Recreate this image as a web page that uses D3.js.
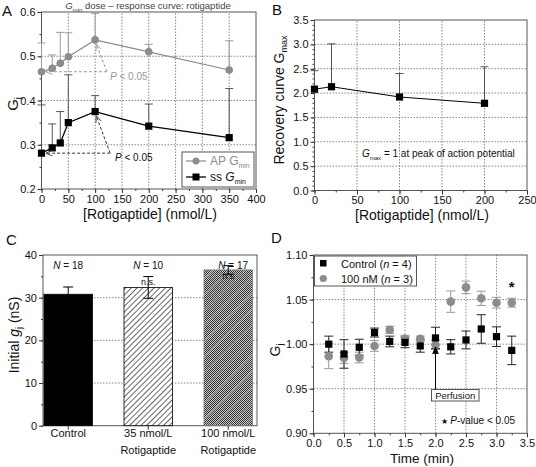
<!DOCTYPE html>
<html><head><meta charset="utf-8">
<script src="https://cdn.jsdelivr.net/npm/d3@7"></script>
<style>body{margin:0;background:#fff}svg{display:block;font-family:"Liberation Sans",Arial,sans-serif}</style>
</head><body>
<svg id="c" width="536" height="467"></svg>
<script>
// ---------- DATA ----------
const aDose = [0, 20, 35, 50, 100, 200, 350];
const apGmin = [0.465, 0.473, 0.484, 0.499, 0.537, 0.510, 0.469];
const apGminErr = [0.065, 0.030, 0.070, 0.054, 0.060, 0.017, 0.066];
const ssGmin = [0.281, 0.293, 0.304, 0.350, 0.375, 0.342, 0.316];
const ssGminErr = [0.109, 0.054, 0.071, 0.108, 0.036, 0.050, 0.111];
const aXTicks = [0, 50, 100, 150, 200, 250, 300, 350, 400];
const aYTicks = [0.2, 0.3, 0.4, 0.5, 0.6];

const bDose = [0, 20, 100, 200];
const bGmax = [2.08, 2.13, 1.92, 1.79];
const bGmaxErr = [0.38, 0.88, 0.48, 0.75];
const bXTicks = [0, 50, 100, 150, 200, 250];
const bYTicks = [0, 0.5, 1.0, 1.5, 2.0, 2.5, 3.0, 3.5];

const cCats = ["Control", "35 nmol/L", "100 nmol/L"];
const cCats2 = ["", "Rotigaptide", "Rotigaptide"];
const cVals = [30.8, 32.4, 36.5];
const cErr = [1.7, 2.55, 1.0];
const cN = ["18", "10", "17"];
const cYTicks = [0, 10, 20, 30, 40];

const dTime = [0.25, 0.5, 0.75, 1.0, 1.25, 1.5, 1.75, 2.0, 2.25, 2.5, 2.75, 3.0, 3.25];
const dCtrl = [1.000, 0.989, 0.9965, 1.013, 1.003, 1.002, 0.998, 1.007, 0.997, 1.0047, 1.017, 1.0084, 0.993];
const dCtrlErr = [0.009, 0.016, 0.009, 0.005, 0.006, 0.006, 0.007, 0.012, 0.008, 0.010, 0.016, 0.011, 0.016];
const dNM = [0.9865, 0.9845, 0.985, 0.998, 1.016, 1.006, 1.006, 0.999, 1.0477, 1.0637, 1.0514, 1.0465, 1.0465];
const dNMErr = [0.014, 0.006, 0.006, 0.006, 0.004, 0.004, 0.003, 0.005, 0.012, 0.007, 0.008, 0.006, 0.005];
const dXTicks = [0, 0.5, 1.0, 1.5, 2.0, 2.5, 3.0, 3.5];
const dYTicks = [0.90, 0.95, 1.00, 1.05, 1.10];

// ---------- HELPERS ----------
const svg = d3.select("#c");
const GRAY = "#8c8c8c";
const defs = svg.append("defs");
function marker(id, color, filled) {
  defs.append("marker").attr("id", id).attr("viewBox", "0 0 10 10").attr("refX", 10).attr("refY", 5)
    .attr("markerWidth", 7).attr("markerHeight", 7).attr("orient", "auto-start-reverse")
    .attr("markerUnits", "userSpaceOnUse")
    .append("path").attr("d", filled ? "M0,1L10,5L0,9Z" : "M0,1L10,5L0,9")
    .attr("fill", filled ? color : "none").attr("stroke", color).attr("stroke-width", 1.2);
}
marker("arG", "#999", false);
marker("arK", "#333", false);
marker("arF", "#000", true);

function frame(g, x, y, xt, yt, xMinor, yMinor, xFmt, yFmt, grid) {
  const [x0, x1] = x.range(), [y0, y1] = y.range();
  if (grid !== false) {
    g.append("g").selectAll("line").data(yt.slice(1, -1)).join("line")
      .attr("x1", x0).attr("x2", x1).attr("y1", d => y(d)).attr("y2", d => y(d))
      .attr("stroke", "#555").attr("stroke-width", 0.7).attr("stroke-dasharray", "1.5,1.5");
    if (grid !== "y") g.append("g").selectAll("line").data(xt.slice(1, -1)).join("line")
      .attr("y1", y0).attr("y2", y1).attr("x1", d => x(d)).attr("x2", d => x(d))
      .attr("stroke", "#555").attr("stroke-width", 0.7).attr("stroke-dasharray", "1.5,1.5");
  }
  g.append("g").attr("transform", `translate(0,${y0})`)
    .call(d3.axisBottom(x).tickValues(xt).tickSize(4).tickSizeOuter(0).tickPadding(2).tickFormat(xFmt));
  if (xMinor) g.append("g").attr("transform", `translate(0,${y0})`)
    .call(d3.axisBottom(x).tickValues(xMinor).tickSize(2).tickSizeOuter(0).tickFormat(""));
  g.append("g").attr("transform", `translate(${x0},0)`)
    .call(d3.axisLeft(y).tickValues(yt).tickSize(4).tickSizeOuter(0).tickPadding(2).tickFormat(yFmt));
  if (yMinor) g.append("g").attr("transform", `translate(${x0},0)`)
    .call(d3.axisLeft(y).tickValues(yMinor).tickSize(2).tickSizeOuter(0).tickFormat(""));
  g.selectAll(".domain").remove();
  g.selectAll(".tick text").attr("font-size", 11).attr("fill", "#111").attr("font-family", "Liberation Sans, Arial, sans-serif");
  g.selectAll(".tick line").attr("stroke", "#333");
  g.append("rect").attr("x", x0).attr("y", y1).attr("width", x1 - x0).attr("height", y0 - y1)
    .attr("fill", "none").attr("stroke", "#555").attr("stroke-width", 1);
}
function minors(a, b, s) { const r = []; for (let v = a; v <= b + 1e-9; v += s) r.push(+v.toFixed(4)); return r; }
function errBars(g, xs, ys, es, x, y, color, cap, upperOnly) {
  const gg = g.append("g").attr("stroke", color).attr("stroke-width", 1);
  xs.forEach((xv, i) => {
    const top = Math.max(y(ys[i] + es[i]), y.range()[1]);
    const bot = upperOnly ? y(ys[i]) : y(ys[i] - es[i]);
    gg.append("line").attr("x1", x(xv)).attr("x2", x(xv)).attr("y1", top).attr("y2", bot);
    if (y(ys[i] + es[i]) >= y.range()[1])
      gg.append("line").attr("x1", x(xv) - cap).attr("x2", x(xv) + cap).attr("y1", top).attr("y2", top);
    if (!upperOnly)
      gg.append("line").attr("x1", x(xv) - cap).attr("x2", x(xv) + cap).attr("y1", bot).attr("y2", bot);
  });
}
function txt(g, x, y, s, o) {
  const t = g.append("text").attr("x", x).attr("y", y).attr("font-size", (o && o.size) || 11)
    .attr("fill", (o && o.fill) || "#111").attr("text-anchor", (o && o.anchor) || "start");
  if (s) t.text(s);
  if (o && o.rotate) t.attr("transform", `rotate(-90,${x},${y})`);
  return t;
}
function sub(t, main, subs, after, mainItalic, size) {
  t.append("tspan").text(main).attr("font-style", mainItalic ? "italic" : null);
  t.append("tspan").text(subs).attr("font-size", size).attr("dy", 3);
  if (after) t.append("tspan").text(after).attr("dy", -3);
}

// ---------- PANEL A ----------
{
  const g = svg.append("g");
  const x = d3.scaleLinear().domain([0, 400]).range([41.5, 256]);
  const y = d3.scaleLinear().domain([0.2, 0.6]).range([189, 12]);
  frame(g, x, y, aXTicks, aYTicks, minors(0, 400, 25), minors(0.2, 0.6, 0.05), d3.format("d"), d3.format(".1f"));
  errBars(g, aDose, apGmin, apGminErr, x, y, "#999", 4, true);
  errBars(g, aDose, ssGmin, ssGminErr, x, y, "#555", 4, true);
  const line = d3.line().x(d => x(d[0])).y(d => y(d[1]));
  g.append("path").datum(aDose.map((d, i) => [d, apGmin[i]])).attr("d", line).attr("fill", "none").attr("stroke", GRAY).attr("stroke-width", 1.2);
  g.append("path").datum(aDose.map((d, i) => [d, ssGmin[i]])).attr("d", line).attr("fill", "none").attr("stroke", "#000").attr("stroke-width", 1.3);
  g.selectAll(".cir").data(aDose).join("circle").attr("cx", d => x(d)).attr("cy", (d, i) => y(apGmin[i])).attr("r", 3.8).attr("fill", GRAY);
  g.selectAll(".sq").data(aDose).join("rect").attr("x", d => x(d) - 3.6).attr("y", (d, i) => y(ssGmin[i]) - 3.6).attr("width", 7.2).attr("height", 7.2).attr("fill", "#000");
  const cornerG = [122, apGmin[0]], cornerK = [128, ssGmin[0]];
  g.append("line").attr("x1", x(cornerG[0])).attr("y1", y(cornerG[1])).attr("x2", x(0) + 4).attr("y2", y(cornerG[1]))
    .attr("stroke", "#999").attr("stroke-dasharray", "3,2").attr("marker-end", "url(#arG)");
  g.append("line").attr("x1", x(cornerG[0])).attr("y1", y(cornerG[1])).attr("x2", x(100) + 1).attr("y2", y(apGmin[4]) + 4)
    .attr("stroke", "#999").attr("stroke-dasharray", "3,2").attr("marker-end", "url(#arG)");
  g.append("line").attr("x1", x(cornerK[0])).attr("y1", y(cornerK[1])).attr("x2", x(0) + 4).attr("y2", y(cornerK[1]))
    .attr("stroke", "#333").attr("stroke-dasharray", "3,2").attr("marker-end", "url(#arK)");
  g.append("line").attr("x1", x(cornerK[0])).attr("y1", y(cornerK[1])).attr("x2", x(100) + 1).attr("y2", y(ssGmin[4]) + 4)
    .attr("stroke", "#333").attr("stroke-dasharray", "3,2").attr("marker-end", "url(#arK)");
  let t = txt(g, 110, 80, "", { size: 10, fill: "#999" });
  t.append("tspan").text("P").attr("font-style", "italic"); t.append("tspan").text(" < 0.05");
  t = txt(g, 115, 161, "", { size: 10, fill: "#111" });
  t.append("tspan").text("P").attr("font-style", "italic"); t.append("tspan").text(" < 0.05");
  g.append("rect").attr("x", 182).attr("y", 152).attr("width", 72).attr("height", 35).attr("fill", "#fff").attr("stroke", "#555");
  g.append("line").attr("x1", 186).attr("x2", 206).attr("y1", 161).attr("y2", 161).attr("stroke", GRAY).attr("stroke-width", 1.2);
  g.append("circle").attr("cx", 196).attr("cy", 161).attr("r", 3.5).attr("fill", GRAY);
  g.append("line").attr("x1", 186).attr("x2", 206).attr("y1", 177).attr("y2", 177).attr("stroke", "#000").attr("stroke-width", 1.3);
  g.append("rect").attr("x", 192.5).attr("y", 173.5).attr("width", 7).attr("height", 7).attr("fill", "#000");
  t = txt(g, 210, 165, "", { size: 12, fill: GRAY }); sub(t, "AP G", "min", "", false, 7);
  t = txt(g, 210, 181, "", { size: 12 }); t.append("tspan").text("ss "); sub(t, "G", "min", "", true, 7);
  t = txt(g, 148, 9, "", { size: 9.5, fill: "#444", anchor: "middle" }); sub(t, "G", "min", " dose – response curve: rotigaptide", true, 6);
  txt(g, 2, 16, "A", { size: 15 });
  t = txt(g, 18, 104, "", { size: 15, rotate: true, anchor: "middle" }); sub(t, "G", "j", "", false, 9);
  txt(g, 150, 218.5, "[Rotigaptide] (nmol/L)", { size: 14, anchor: "middle" });
}

// ---------- PANEL B ----------
{
  const g = svg.append("g");
  const x = d3.scaleLinear().domain([0, 250]).range([314.5, 527]);
  const y = d3.scaleLinear().domain([0, 3.5]).range([190.5, 20]);
  frame(g, x, y, bXTicks, bYTicks, minors(0, 250, 25), minors(0, 3.5, 0.1), d3.format("d"), d3.format(".1f"));
  errBars(g, bDose, bGmax, bGmaxErr, x, y, "#555", 4, true);
  g.append("path").datum(bDose.map((d, i) => [d, bGmax[i]])).attr("d", d3.line().x(d => x(d[0])).y(d => y(d[1])))
    .attr("fill", "none").attr("stroke", "#000").attr("stroke-width", 1);
  g.selectAll(".sq").data(bDose).join("rect").attr("x", d => x(d) - 3.6).attr("y", (d, i) => y(bGmax[i]) - 3.6).attr("width", 7.2).attr("height", 7.2).attr("fill", "#000");
  let t = txt(g, 362, 157, "", { size: 10 }); sub(t, "G", "max", " = 1 at peak of action potential", true, 6);
  txt(g, 272, 15, "B", { size: 15 });
  t = txt(g, 284, 100, "", { size: 14, rotate: true, anchor: "middle" }); sub(t, "Recovery curve G", "max", "", false, 9);
  txt(g, 422, 219.5, "[Rotigaptide] (nmol/L)", { size: 14, anchor: "middle" });
}

// ---------- PANEL C ----------
{
  const g = svg.append("g");
  const p1 = defs.append("pattern").attr("id", "hatch").attr("patternUnits", "userSpaceOnUse").attr("width", 4).attr("height", 4)
    .attr("patternTransform", "rotate(45)");
  p1.append("rect").attr("width", 4).attr("height", 4).attr("fill", "#fff");
  p1.append("line").attr("x1", 0).attr("y1", 0).attr("x2", 0).attr("y2", 4).attr("stroke", "#000").attr("stroke-width", 1.2);
  const p2 = defs.append("pattern").attr("id", "checker").attr("patternUnits", "userSpaceOnUse").attr("width", 2).attr("height", 2);
  p2.append("rect").attr("width", 2).attr("height", 2).attr("fill", "#c8c8c8");
  p2.append("rect").attr("width", 1).attr("height", 1).attr("fill", "#333");
  p2.append("rect").attr("x", 1).attr("y", 1).attr("width", 1).attr("height", 1).attr("fill", "#333");
  const p3 = defs.append("pattern").attr("id", "stripe").attr("patternUnits", "userSpaceOnUse").attr("width", 11).attr("height", 11)
    .attr("patternTransform", "rotate(45)");
  p3.append("line").attr("x1", 0).attr("y1", 0).attr("x2", 0).attr("y2", 11).attr("stroke", "#999").attr("stroke-width", 3).attr("stroke-opacity", 0.8);

  const x = d3.scaleBand().domain(cCats).range([43, 253.5]).paddingInner(0.394).paddingOuter(0.0125);
  const y = d3.scaleLinear().domain([0, 40]).range([425.7, 255]);
  const xl = d3.scaleLinear().domain([0, 1]).range([43, 257]);
  frame(g, xl, y, [], cYTicks, null, minors(0, 40, 5), "", d3.format("d"), "y");
  const fills = ["#000", "url(#hatch)", "url(#checker)"];
  g.selectAll(".bar").data(cCats).join("rect").attr("x", d => x(d)).attr("y", (d, i) => y(cVals[i]))
    .attr("width", x.bandwidth()).attr("height", (d, i) => y(0) - y(cVals[i]))
    .attr("fill", (d, i) => fills[i]).attr("stroke", (d, i) => i === 2 ? "#777" : "#000").attr("stroke-width", 0.8);
  g.append("rect").attr("x", x(cCats[2])).attr("y", y(cVals[2])).attr("width", x.bandwidth()).attr("height", y(0) - y(cVals[2]))
    .attr("fill", "url(#stripe)");
  const xc = d => x(d) + x.bandwidth() / 2;
  const eg = g.append("g").attr("stroke", "#000").attr("stroke-width", 1);
  cCats.forEach((c, i) => {
    const cx = xc(c), t = y(cVals[i] + cErr[i]), b = y(cVals[i] - cErr[i]);
    eg.append("line").attr("x1", cx).attr("x2", cx).attr("y1", t).attr("y2", i === 0 ? y(cVals[i]) : b);
    eg.append("line").attr("x1", cx - 5).attr("x2", cx + 5).attr("y1", t).attr("y2", t);
    if (i > 0) eg.append("line").attr("x1", cx - 5).attr("x2", cx + 5).attr("y1", b).attr("y2", b);
  });
  g.append("g").selectAll("line").data(cCats).join("line").attr("x1", xc).attr("x2", xc)
    .attr("y1", y(0)).attr("y2", y(0) + 4).attr("stroke", "#333");
  cCats.forEach((c, i) => {
    const t = txt(g, xc(c) + (i === 2 ? 5 : 0), 268.5, "", { size: 10, anchor: "middle" });
    t.append("tspan").text("N").attr("font-style", "italic"); t.append("tspan").text(" = " + cN[i]);
    txt(g, xc(c), 437, c, { size: 11, anchor: "middle" });
    if (cCats2[i]) txt(g, xc(c), 454, cCats2[i], { size: 11, anchor: "middle" });
  });
  txt(g, xc(cCats[1]), 285, "n.s.", { size: 9, anchor: "middle" });
  txt(g, xc(cCats[2]), 278.5, "n.s", { size: 9, anchor: "middle" });
  txt(g, 6, 245, "C", { size: 15 });
  const t = txt(g, 19, 335, "", { size: 14, rotate: true, anchor: "middle" });
  t.append("tspan").text("Initial "); t.append("tspan").text("g").attr("font-style", "italic");
  t.append("tspan").text("j").attr("font-size", 9).attr("dy", 3); t.append("tspan").text(" (nS)").attr("dy", -3);
}

// ---------- PANEL D ----------
{
  const g = svg.append("g");
  const x = d3.scaleLinear().domain([0, 3.5]).range([313.5, 527]);
  const y = d3.scaleLinear().domain([0.9, 1.1]).range([433.3, 255]);
  frame(g, x, y, dXTicks, dYTicks, minors(0, 3.5, 0.25), minors(0.9, 1.1, 0.025), d3.format(".1f"), d3.format(".2f"));
  errBars(g, dTime, dNM, dNMErr, x, y, "#999", 4.5, false);
  errBars(g, dTime, dCtrl, dCtrlErr, x, y, "#222", 4.5, false);
  g.selectAll(".cir").data(dTime).join("circle").attr("cx", d => x(d)).attr("cy", (d, i) => y(dNM[i])).attr("r", 4.3).attr("fill", GRAY);
  g.selectAll(".sq").data(dTime).join("rect").attr("x", d => x(d) - 3.6).attr("y", (d, i) => y(dCtrl[i]) - 3.6).attr("width", 7.2).attr("height", 7.2).attr("fill", "#000");
  g.append("rect").attr("x", 314.5).attr("y", 256).attr("width", 102).attr("height", 30).attr("fill", "#fff").attr("stroke", "#555");
  g.append("rect").attr("x", 320).attr("y", 260).attr("width", 6.5).attr("height", 6.5).attr("fill", "#000");
  g.append("circle").attr("cx", 323.3).attr("cy", 278.5).attr("r", 3.6).attr("fill", GRAY);
  let t = txt(g, 341, 267.5, "", { size: 11 });
  t.append("tspan").text("Control ("); t.append("tspan").text("n").attr("font-style", "italic"); t.append("tspan").text(" = 4)");
  t = txt(g, 341, 282.5, "", { size: 11 });
  t.append("tspan").text("100 nM ("); t.append("tspan").text("n").attr("font-style", "italic"); t.append("tspan").text(" = 3)");
  txt(g, x(3.25), y(1.058), "*", { size: 15, anchor: "middle" }).attr("font-weight", "bold");
  g.append("line").attr("x1", x(2.0)).attr("x2", x(2.0)).attr("y1", 390).attr("y2", y(0.997))
    .attr("stroke", "#000").attr("stroke-width", 1).attr("marker-end", "url(#arF)");
  g.append("rect").attr("x", 431.5).attr("y", 389.5).attr("width", 47.5).attr("height", 11.5).attr("fill", "#fff").attr("stroke", "#555");
  txt(g, 455.2, 399, "Perfusion", { size: 9.5, anchor: "middle" });
  t = txt(g, 441, 424, "", { size: 10 });
  t.append("tspan").text("★ ").attr("font-size", 8); t.append("tspan").text("P").attr("font-style", "italic"); t.append("tspan").text("-value < 0.05");
  txt(g, 271, 243, "D", { size: 15 });
  t = txt(g, 280, 350, "", { size: 14, rotate: true, anchor: "middle" }); sub(t, "G", "j", "", false, 9);
  txt(g, 422, 462.5, "Time (min)", { size: 13.5, anchor: "middle" });
}
</script>
</body></html>
